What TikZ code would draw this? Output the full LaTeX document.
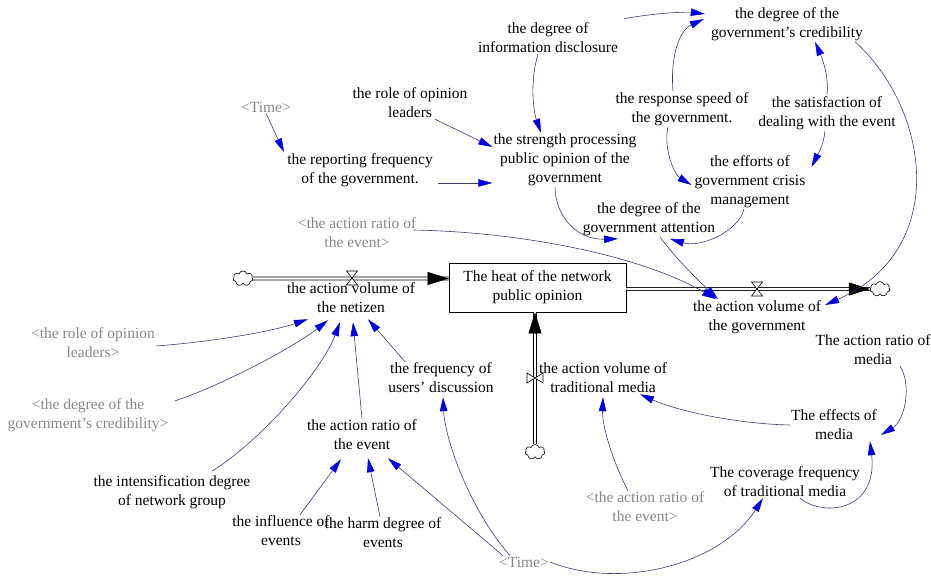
\documentclass[tikz,border=0pt]{standalone}
\usepackage{fontspec}
\setmainfont{Liberation Serif}
\usetikzlibrary{arrows.meta,shapes.symbols}
\definecolor{linkline}{RGB}{60,60,115}
\definecolor{linkhead}{RGB}{0,0,225}
\definecolor{shadowtext}{RGB}{135,135,135}
\tikzset{
  var/.style={align=center, inner sep=1pt, font=\fontsize{15.5}{19}\selectfont},
  shadowvar/.style={var, text=shadowtext},
  stockbox/.style={var, draw, fill=white, line width=0.8pt, minimum width=177pt, minimum height=49pt, inner sep=0pt},
  link/.style={draw=linkline, line width=0.6pt, -{Triangle[length=14pt,width=7.5pt,color=linkhead]}},
  pipe/.style={draw=black, double=white, double distance=2.2pt, line width=0.8pt},
  pipetip/.style={-{Triangle[length=21pt,width=13pt]}, line width=0.6pt, black},
  valve/.style={draw=black, fill=white, line width=0.6pt},
  sourcesink/.style={cloud, cloud puffs=7, aspect=1.3, draw, fill=white, line width=0.6pt, minimum width=20pt, minimum height=15pt, inner sep=0pt},
}
\begin{document}
\begin{tikzpicture}[x=1pt,y=-1pt]
\useasboundingbox (0,0) rectangle (931,577);

% stock
\node[stockbox] (heat) at (537.5,287.5) {The heat of the network\\public opinion};

% variables
\node[var] (credib) at (787,24) {the degree of the\\government’s credibility};
\node[var] (infodis) at (548,38) {the degree of\\information disclosure};
\node[var] (roleop) at (410,103) {the role of opinion\\leaders};
\node[shadowvar] (time1) at (266,107) {\textless Time\textgreater};
\node[var] (repfreq) at (360,170) {the reporting frequency\\of the government.};
\node[var] (strength) at (565,160) {the strength processing\\public opinion of the\\government};
\node[var] (respspd) at (682,109) {the response speed of\\the government.};
\node[var] (satisf) at (827,113) {the satisfaction of\\dealing with the event};
\node[var] (efforts) at (750,182) {the efforts of\\government crisis\\management};
\node[var] (attent) at (649,219) {the degree of the\\government attention};
\node[shadowvar] (ratioA) at (357,233) {\textless the action ratio of\\the event\textgreater};
\node[var] (netizen) at (351,298) {the action volume of\\the netizen};
\node[var] (govvol) at (757,317) {the action volume of\\the government};
\node[var] (mediaratio) at (873,350) {The action ratio of\\media};
\node[shadowvar] (roleopB) at (93,343) {\textless the role of opinion\\leaders\textgreater};
\node[shadowvar] (credB) at (88,415) {\textless the degree of the\\government’s credibility\textgreater};
\node[var] (users) at (441,378) {the frequency of\\users’ discussion};
\node[var] (tradvol) at (603,378) {the action volume of\\traditional media};
\node[var] (effects) at (834,425) {The effects of\\media};
\node[var] (ratioE) at (362,435) {the action ratio of\\the event};
\node[var] (intens) at (172,492) {the intensification degree\\of network group};
\node[shadowvar] (ratioB) at (645,507) {\textless the action ratio of\\the event\textgreater};
\node[var] (coverage) at (785,482) {The coverage frequency\\of traditional media};
\node[var] (influence) at (281,531) {the influence of\\events};
\node[var] (harm) at (383,533) {the harm degree of\\events};
\node[shadowvar] (time2) at (524,562) {\textless Time\textgreater};

% sources and sinks
\node[sourcesink] (cloudL) at (243,278.5) {};
\node[sourcesink] (cloudR) at (880,289) {};
\node[sourcesink] (cloudB) at (535,452) {};

% flows
\draw[pipe] (cloudL.east) -- ([yshift=9pt]heat.west);
\draw[pipetip] ([xshift=-21pt,yshift=9pt]heat.west) -- ([yshift=9pt]heat.west);
\draw[pipe] ([yshift=-1.5pt]heat.east) -- (cloudR.west);
\draw[pipetip] ([xshift=-21pt]cloudR.west) -- (cloudR.west);
\draw[pipe] (cloudB.north) -- ([xshift=-2.5pt]heat.south);
\draw[pipetip] ([xshift=-2.5pt,yshift=-21pt]heat.south) -- ([xshift=-2.5pt]heat.south);

% causal links
\draw[link] (time1.south) -- ([xshift=-2pt]repfreq.north west);
\draw[link] ([xshift=25pt]roleop.south) -- ([yshift=13pt]strength.west);
\draw[link] ([xshift=4pt,yshift=-13pt]repfreq.east) -- ([yshift=-23pt]strength.west);
\draw[link] ([xshift=-10pt]infodis.south) .. controls (530,80) and (533,110) .. ([xshift=-24pt]strength.north);
\draw[link] ([xshift=5pt,yshift=3pt]infodis.north east) .. controls (660,12) and (690,12) .. ([xshift=-5pt,yshift=10pt]credib.west);
\draw[link] ([xshift=-9pt]respspd.north) .. controls (670,55) and (680,30) .. ([xshift=-6pt,yshift=5pt]credib.west);
\draw[link] (satisf.north) .. controls (829,75) and (822,58) .. ([xshift=28pt]credib.south);
\draw[link] ([xshift=-2pt]satisf.south) .. controls (824,145) and (816,158) .. ([xshift=5pt,yshift=15pt]efforts.east);
\draw[link] ([xshift=-14pt]respspd.south) .. controls (663,150) and (675,175) .. ([xshift=-2pt,yshift=-3pt]efforts.west);
\draw[link] ([xshift=-10pt]strength.south) .. controls (556,220) and (580,240) .. ([xshift=-31pt,yshift=-2pt]attent.south);
\draw[link] ([xshift=-6pt]efforts.south) .. controls (738,232) and (700,248) .. ([xshift=21pt,yshift=-2pt]attent.south);
\draw[link] ([xshift=11pt]attent.south) .. controls (675,258) and (700,282) .. ([xshift=-39pt]govvol.north);
\draw[link] ([xshift=-4pt,yshift=3pt]ratioA.east) .. controls (520,232) and (640,255) .. ([xshift=-41pt]govvol.north);
\draw[link] ([xshift=-9pt]credib.south east) .. controls (930,110) and (950,250) .. ([xshift=3pt,yshift=12pt]govvol.east);
\draw[link] ([yshift=-3pt]roleopB.east) .. controls (210,342) and (270,332) .. ([xshift=-43pt,yshift=-5pt]netizen.south);
\draw[link] ([xshift=5pt,yshift=14pt]credB.east) .. controls (215,388) and (290,350) .. ([xshift=-23pt,yshift=-6pt]netizen.south);
\draw[link] ([xshift=40pt,yshift=3pt]intens.north) .. controls (262,440) and (322,370) .. ([xshift=-11pt,yshift=-8pt]netizen.south);
\draw[link] (ratioE.north) -- ([xshift=2pt,yshift=-8pt]netizen.south);
\draw[link] ([xshift=18pt]users.north west) -- ([xshift=17pt,yshift=-5pt]netizen.south);
\draw[link] ([xshift=19pt]influence.north) -- ([xshift=-21pt,yshift=-8pt]ratioE.south);
\draw[link] ([xshift=-3pt]harm.north) -- ([xshift=6pt,yshift=-7pt]ratioE.south);
\draw[link] ([xshift=-21pt]time2.north) -- ([xshift=26pt,yshift=-7pt]ratioE.south);
\draw[link] ([xshift=-14pt]time2.north) .. controls (470,510) and (445,440) .. ([xshift=2pt,yshift=-3pt]users.south);
\draw[link] (time2.east) .. controls (620,590) and (720,565) .. ([xshift=-22pt]coverage.south);
\draw[link] ([xshift=-17pt]ratioB.north) .. controls (612,460) and (602,425) .. ([yshift=-3pt]tradvol.south);
\draw[link] (effects.west) .. controls (740,424) and (680,412) .. ([xshift=37pt]tradvol.south);
\draw[link] ([xshift=27pt]mediaratio.south) .. controls (912,385) and (905,420) .. ([xshift=3pt,yshift=-10pt]effects.east);
\draw[link] ([xshift=15pt]coverage.south) .. controls (825,518) and (878,510) .. ([xshift=36pt]effects.south);

% valves
\draw[valve] (346.5,271) -- (357.5,271) -- (346.5,285) -- (357.5,285) -- cycle;
\draw[valve] (751.5,282) -- (762.5,282) -- (751.5,296) -- (762.5,296) -- cycle;
\draw[valve] (527,373) -- (527,383) -- (543,373) -- (543,383) -- cycle;
\end{tikzpicture}
\end{document}
